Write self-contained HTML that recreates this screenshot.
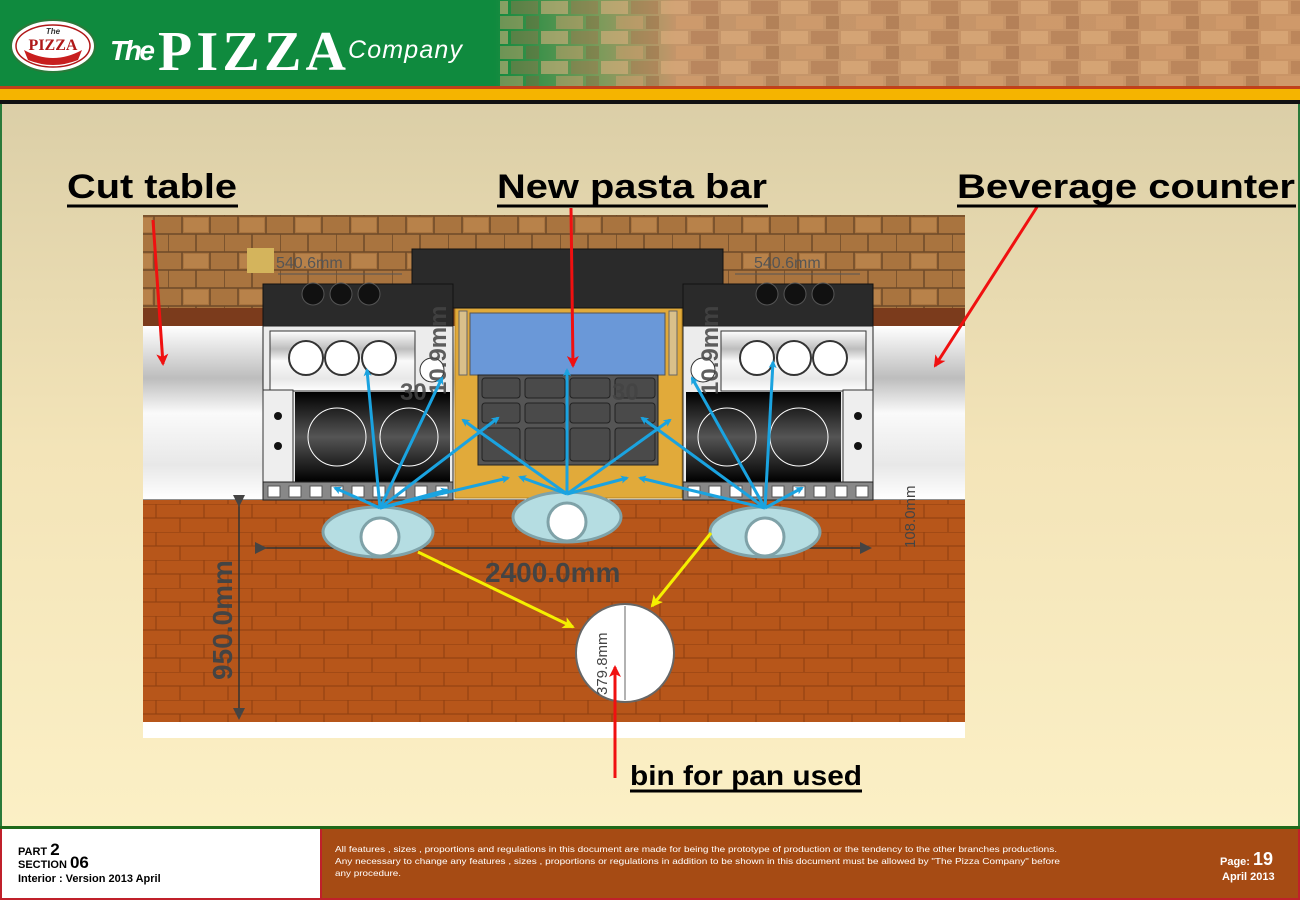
<!DOCTYPE html>
<html><head><meta charset="utf-8"><style>
body{margin:0;width:1300px;height:900px;overflow:hidden;font-family:"Liberation Sans",sans-serif}
</style></head><body>
<svg width="1300" height="900" viewBox="0 0 1300 900" xmlns="http://www.w3.org/2000/svg" font-family="Liberation Sans, sans-serif">
<defs>
<linearGradient id="bg" x1="0" y1="0" x2="0" y2="1"><stop offset="0" stop-color="#d4c8a2"/><stop offset="0.5" stop-color="#f3e4b8"/><stop offset="1" stop-color="#fdf2c8"/></linearGradient>
<linearGradient id="hdr" x1="0" y1="0" x2="1" y2="0"><stop offset="0" stop-color="#0f8a3e"/><stop offset="0.38" stop-color="#0f8a3e"/><stop offset="0.46" stop-color="#7a9a5a"/><stop offset="0.52" stop-color="#c4956a"/><stop offset="1" stop-color="#c99466"/></linearGradient>
<pattern id="hb" width="60" height="30" patternUnits="userSpaceOnUse"><rect x="1" y="1" width="27" height="13" fill="#e0b080" opacity=".55"/><rect x="31" y="1" width="27" height="13" fill="#a8704a" opacity=".4"/><rect x="16" y="16" width="27" height="13" fill="#d8a070" opacity=".45"/><rect x="46" y="16" width="13" height="13" fill="#8e5c3a" opacity=".35"/></pattern>
<linearGradient id="steel" x1="0" y1="0" x2="0" y2="1"><stop offset="0" stop-color="#fff"/><stop offset="0.3" stop-color="#bdbdbd"/><stop offset="0.5" stop-color="#fafafa"/><stop offset="0.8" stop-color="#e8e8e8"/><stop offset="1" stop-color="#fff"/></linearGradient>
<pattern id="wall" width="56" height="36" patternUnits="userSpaceOnUse"><rect width="56" height="36" fill="#a9743f"/><path d="M0 0H56M0 18H56M0 36H56M14 0V18M42 0V18M0 18V36M28 18V36" stroke="#6e4a28" stroke-width="1.5"/><rect x="16" y="2" width="24" height="14" fill="#b8824a"/></pattern>
<pattern id="floor" width="48" height="28" patternUnits="userSpaceOnUse"><rect width="48" height="28" fill="#b7561a"/><path d="M0 0H48M0 14H48M12 0V14M36 14V28" stroke="#8e3f10" stroke-width="1"/></pattern>
<linearGradient id="oven" x1="0" y1="0" x2="0" y2="1"><stop offset="0" stop-color="#000"/><stop offset="0.5" stop-color="#555"/><stop offset="1" stop-color="#000"/></linearGradient>
<marker id="ab" markerWidth="8" markerHeight="8" refX="6" refY="4" orient="auto" markerUnits="userSpaceOnUse"><path d="M0,0 L8,4 L0,8 L2,4z" fill="#1aa3e0"/></marker>
<marker id="ar" markerWidth="12" markerHeight="12" refX="10" refY="6" orient="auto" markerUnits="userSpaceOnUse"><path d="M0,0 L12,6 L0,12 L3,6z" fill="#f01010"/></marker>
<marker id="ay" markerWidth="12" markerHeight="12" refX="10" refY="6" orient="auto" markerUnits="userSpaceOnUse"><path d="M0,0 L12,6 L0,12 L3,6z" fill="#f5f000"/></marker>
<marker id="ag" markerWidth="12" markerHeight="12" refX="10" refY="6" orient="auto" markerUnits="userSpaceOnUse"><path d="M0,0 L12,6 L0,12z" fill="#444"/></marker>
</defs>
<rect width="1300" height="900" fill="url(#bg)"/>
<!-- header -->
<rect x="0" y="0" width="1300" height="88" fill="url(#hdr)"/>
<rect x="500" y="0" width="800" height="88" fill="url(#hb)"/>
<rect x="0" y="0" width="490" height="88" fill="#0f8a3e" opacity="0.85"/>
<rect x="0" y="86" width="1300" height="3" fill="#c0401a"/>
<rect x="0" y="89" width="1300" height="11" fill="#f5b400"/>
<rect x="0" y="100" width="1300" height="4" fill="#111"/>
<ellipse cx="53" cy="46" rx="42" ry="26" fill="#fff" stroke="#2a7a3a" stroke-width="2"/>
<ellipse cx="53" cy="46" rx="37" ry="21" fill="none" stroke="#b01818" stroke-width="1.5"/>
<path d="M24 50 Q53 66 82 50 L78 60 Q53 70 28 60z" fill="#c81e1e"/>
<text x="53" y="50" text-anchor="middle" font-family="Liberation Serif, serif" font-weight="bold" font-size="16" fill="#b01818">PIZZA</text>
<text x="53" y="34" text-anchor="middle" font-size="8" font-style="italic" font-weight="bold" fill="#333">The</text>
<text x="110" y="60" font-size="28" font-style="italic" font-weight="bold" fill="#fff" textLength="45">The</text>
<text x="158" y="70" font-family="Liberation Serif, serif" font-size="56" font-weight="bold" fill="#fff" textLength="188">PIZZA</text>
<text x="348" y="58" font-size="25" font-style="italic" fill="#fff" textLength="114">Company</text>
<!-- side borders -->
<rect x="0" y="104" width="2" height="722" fill="#2a7a3a"/><rect x="1298" y="104" width="2" height="722" fill="#2a7a3a"/>
<!-- diagram -->
<rect x="143" y="215" width="822" height="95" fill="url(#wall)"/>
<rect x="247" y="248" width="27" height="25" fill="#d4b45c"/>
<rect x="143" y="308" width="822" height="18" fill="#7b3b1c"/>
<rect x="143" y="326" width="822" height="174" fill="url(#steel)"/>
<line x1="143" y1="500" x2="965" y2="500" stroke="#222"/>
<rect x="143" y="500" width="822" height="222" fill="url(#floor)"/>
<rect x="143" y="722" width="822" height="16" fill="#fff"/>
<!-- pasta bar -->
<rect x="455" y="306" width="227" height="192" fill="#e1aa3a" stroke="#b88420"/>
<rect x="470" y="313" width="195" height="62" fill="#6a98d8" stroke="#555"/>
<rect x="459" y="311" width="8" height="64" fill="#d9c08a" stroke="#666"/>
<rect x="669" y="311" width="8" height="64" fill="#d9c08a" stroke="#666"/>
<rect x="478" y="375" width="180" height="90" fill="#555" stroke="#222"/>
<g fill="#4a4a4a" stroke="#222">
<rect x="482" y="378" width="38" height="20" rx="3"/><rect x="525" y="378" width="40" height="20" rx="3"/><rect x="570" y="378" width="40" height="20" rx="3"/><rect x="615" y="378" width="40" height="20" rx="3"/>
<rect x="482" y="403" width="38" height="20" rx="3"/><rect x="525" y="403" width="40" height="20" rx="3"/><rect x="570" y="403" width="40" height="20" rx="3"/><rect x="615" y="403" width="40" height="20" rx="3"/>
<rect x="482" y="428" width="38" height="33" rx="3"/><rect x="525" y="428" width="40" height="33" rx="3"/><rect x="570" y="428" width="40" height="33" rx="3"/><rect x="615" y="428" width="40" height="33" rx="3"/>
</g>
<rect x="412" y="249" width="311" height="59" fill="#2a2a2a" stroke="#111"/>
<!-- left unit -->
<g id="u">
<rect x="263" y="284" width="190" height="42" fill="#2a2a2a" stroke="#111"/>
<rect x="263" y="326" width="190" height="174" fill="#ececec" stroke="#222"/>
<rect x="270" y="331" width="145" height="60" fill="url(#steel)" stroke="#333"/>
<rect x="263" y="390" width="30" height="92" fill="#eee" stroke="#333"/>
<rect x="295" y="392" width="155" height="90" fill="url(#oven)"/>
<circle cx="278" cy="416" r="4" fill="#111"/><circle cx="278" cy="446" r="4" fill="#111"/>
<circle cx="337" cy="437" r="29" fill="none" stroke="#fff" stroke-width="1"/><circle cx="409" cy="437" r="29" fill="none" stroke="#fff" stroke-width="1"/>
<g fill="#fff" stroke="#333" stroke-width="2"><circle cx="306" cy="358" r="17"/><circle cx="342" cy="358" r="17"/><circle cx="379" cy="358" r="17"/></g>
<g fill="#111" stroke="#555"><circle cx="313" cy="294" r="11"/><circle cx="341" cy="294" r="11"/><circle cx="369" cy="294" r="11"/></g>
<rect x="263" y="482" width="190" height="18" fill="#888" stroke="#222"/>
</g>
<g fill="#fff" stroke="#555">
<rect x="268" y="486" width="12" height="11"/><rect x="289" y="486" width="12" height="11"/><rect x="310" y="486" width="12" height="11"/><rect x="331" y="486" width="12" height="11"/><rect x="352" y="486" width="12" height="11"/><rect x="373" y="486" width="12" height="11"/><rect x="394" y="486" width="12" height="11"/><rect x="415" y="486" width="12" height="11"/><rect x="436" y="486" width="12" height="11"/>
</g>
<circle cx="432" cy="370" r="12" fill="#fff" stroke="#333"/>
<use href="#u" transform="translate(1136,0) scale(-1,1)"/>
<g fill="#fff" stroke="#555">
<rect x="688" y="486" width="12" height="11"/><rect x="709" y="486" width="12" height="11"/><rect x="730" y="486" width="12" height="11"/><rect x="751" y="486" width="12" height="11"/><rect x="772" y="486" width="12" height="11"/><rect x="793" y="486" width="12" height="11"/><rect x="814" y="486" width="12" height="11"/><rect x="835" y="486" width="12" height="11"/><rect x="856" y="486" width="12" height="11"/>
</g>
<circle cx="703" cy="370" r="12" fill="#fff" stroke="#333"/>
<!-- dimension labels -->
<g fill="#555" font-size="16"><text x="276" y="268">540.6mm</text><text x="754" y="268">540.6mm</text></g>
<g stroke="#555"><line x1="278" y1="274" x2="402" y2="274"/><line x1="735" y1="274" x2="860" y2="274"/></g>
<g fill="#444" font-weight="bold" opacity="0.85"><text transform="translate(446,395) rotate(-90)" font-size="24">10.9mm</text><text transform="translate(718,395) rotate(-90)" font-size="24">10.9mm</text>
<text x="400" y="400" font-size="24">30</text><text x="612" y="400" font-size="24">30</text></g>
<text transform="translate(915,548) rotate(-90)" fill="#444" font-size="15">108.0mm</text>
<line x1="265" y1="548" x2="870" y2="548" stroke="#333" stroke-width="1.5" marker-start="url(#ag)" marker-end="url(#ag)"/>
<text x="485" y="582" font-size="28" font-weight="bold" fill="#444">2400.0mm</text>
<line x1="239" y1="505" x2="239" y2="718" stroke="#333" stroke-width="1.5" marker-start="url(#ag)" marker-end="url(#ag)"/>
<text transform="translate(232,680) rotate(-90)" font-size="28" font-weight="bold" fill="#444">950.0mm</text>
<!-- ovals -->
<g fill="#b5dde2" stroke="#7fa2a8" stroke-width="3"><ellipse cx="378" cy="532" rx="55" ry="25"/><ellipse cx="567" cy="517" rx="54" ry="25"/><ellipse cx="765" cy="532" rx="55" ry="25"/></g>
<g fill="#fff" stroke="#7fa2a8" stroke-width="3"><circle cx="380" cy="537" r="19"/><circle cx="567" cy="522" r="19"/><circle cx="765" cy="537" r="19"/></g>
<!-- bin -->
<circle cx="625" cy="653" r="49" fill="#fff" stroke="#666" stroke-width="2"/>
<line x1="625" y1="606" x2="625" y2="700" stroke="#666"/>
<text transform="translate(607,695) rotate(-90)" font-size="15" fill="#444">379.8mm</text>
<!-- blue arrows -->
<g stroke="#1aa3e0" stroke-width="3" marker-end="url(#ab)" fill="none">
<path d="M380 508 L367 370"/><path d="M380 508 L442 378"/><path d="M380 508 L498 418"/><path d="M380 508 L335 488"/><path d="M380 508 L447 490"/><path d="M380 508 L508 478"/>
<path d="M567 494 L567 370"/><path d="M567 494 L520 477"/><path d="M567 494 L627 478"/><path d="M567 494 L463 420"/><path d="M567 494 L670 420"/>
<path d="M765 508 L773 362"/><path d="M765 508 L692 378"/><path d="M765 508 L642 418"/><path d="M765 508 L802 488"/><path d="M765 508 L640 478"/>
</g>
<!-- red/yellow arrows -->
<g stroke="#f01010" stroke-width="3" fill="none" marker-end="url(#ar)">
<path d="M153 220 L163 364"/><path d="M571 208 L573 366"/><path d="M1037 207 L935 366"/><path d="M615 778 L615 667"/>
</g>
<g stroke="#f5f000" stroke-width="3" fill="none" marker-end="url(#ay)"><path d="M418 552 L573 627"/><path d="M711 533 L652 606"/></g>
<!-- titles -->
<g font-size="34" font-weight="bold" fill="#000">
<text x="67" y="198" textLength="170" lengthAdjust="spacingAndGlyphs">Cut table</text><text x="497" y="198" textLength="270" lengthAdjust="spacingAndGlyphs">New pasta bar</text><text x="957" y="198" textLength="338" lengthAdjust="spacingAndGlyphs">Beverage counter</text>
<text x="630" y="785" font-size="28" textLength="232" lengthAdjust="spacingAndGlyphs">bin for pan used</text></g>
<g stroke="#000" stroke-width="3"><line x1="67" y1="206" x2="238" y2="206"/><line x1="497" y1="206" x2="768" y2="206"/><line x1="957" y1="206" x2="1296" y2="206"/><line x1="630" y1="791" x2="862" y2="791"/></g>
<!-- footer -->
<rect x="0" y="826" width="1300" height="3" fill="#1f6a1a"/>
<rect x="0" y="829" width="1300" height="71" fill="#c0202a"/>
<rect x="2" y="829" width="318" height="69" fill="#fff"/>
<rect x="322" y="829" width="976" height="69" fill="#a64b14"/>
<g font-weight="bold" fill="#000"><text x="18" y="855" font-size="11">PART <tspan font-size="17">2</tspan></text><text x="18" y="868" font-size="11">SECTION <tspan font-size="17">06</tspan></text><text x="18" y="882" font-size="11">Interior : Version 2013 April</text></g>
<g fill="#fff" font-size="8.5"><text x="335" y="852" textLength="722" lengthAdjust="spacingAndGlyphs">All features , sizes , proportions and regulations in this document are made for being the prototype of production or the tendency to the other branches productions.</text><text x="335" y="864" textLength="725" lengthAdjust="spacingAndGlyphs">Any necessary to change any features , sizes , proportions or regulations in addition to be shown in this document must be allowed by "The Pizza Company" before</text><text x="335" y="876" textLength="66" lengthAdjust="spacingAndGlyphs">any procedure.</text></g>
<g fill="#fff" font-weight="bold"><text x="1220" y="865" font-size="11">Page: <tspan font-size="18">19</tspan></text><text x="1222" y="880" font-size="11">April 2013</text></g>
</svg>
</body></html>
